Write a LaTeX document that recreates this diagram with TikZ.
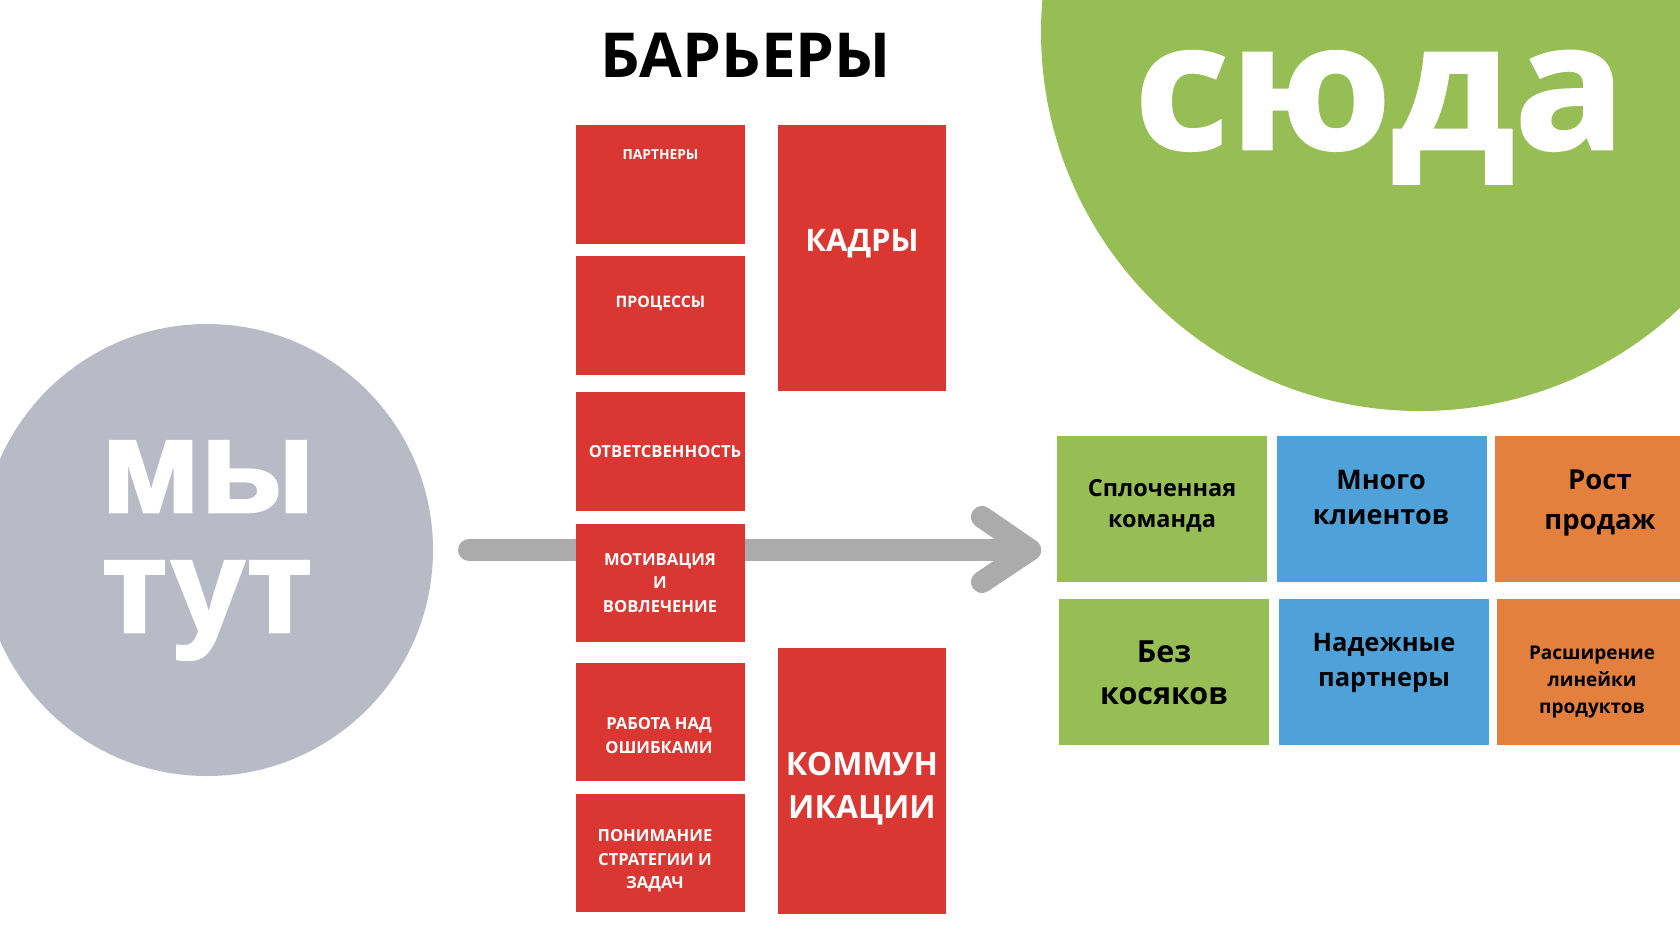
\documentclass[tikz,border=0pt]{standalone}
\usepackage{fontspec}
\setmainfont{Open Sans}
\newfontface\heavyfont{Liberation Sans Bold}[FakeBold=2]
\newfontface\sudafont{Open Sans Bold}[FakeBold=1.5, FakeStretch=1.05]
\definecolor{barred}{HTML}{DA3733}
\definecolor{goalgreen}{HTML}{96BE55}
\definecolor{goalblue}{HTML}{4FA2D9}
\definecolor{goalorange}{HTML}{E3803E}
\definecolor{heregray}{HTML}{B8BAC6}
\definecolor{arrowgray}{HTML}{ABABAB}
\newcommand{\fs}[2]{\bfseries\fontsize{#1}{#2}\selectfont}
\tikzset{
  redbox/.style={fill=barred, draw=none, inner sep=0pt, minimum width=169pt},
  goalbox/.style={draw=none, inner sep=0pt, minimum width=210pt, minimum height=146pt},
  wlbl/.style={text=white, align=center, inner sep=0pt},
  blbl/.style={text=black, align=center, inner sep=0pt},
  bigword/.style={text=white, inner sep=0pt, anchor=base},
  arrowline/.style={draw=arrowgray, line width=22pt, line cap=round, line join=round}
}
\begin{document}
\begin{tikzpicture}[x=1pt,y=-1pt]
\useasboundingbox (0,0) rectangle (1680,930);
\fill[white] (0,0) rectangle (1680,930);
\clip (0,0) rectangle (1680,930);

% circles
\node[circle, fill=heregray, draw=none, minimum size=452pt, inner sep=0pt] (here) at (207,550) {};
\node[circle, fill=goalgreen, draw=none, minimum size=758pt, inner sep=0pt] (goal) at (1420,32) {};

% arrow
\coordinate (astart) at (469,550);
\coordinate (atip) at (1030,550);
\coordinate (aup) at (982,517);
\coordinate (adown) at (982,582);
\draw[arrowline] (astart) -- (atip);
\draw[arrowline] (aup) -- (atip) -- (adown);

% title
\node[blbl, font=\fs{62}{72}] (title) at (746,55) {БАРЬЕРЫ};

% red boxes
\node[redbox, minimum height=119pt] (b1) at (660.5,184.5) {};
\node[redbox, minimum height=119pt] (b2) at (660.5,315.5) {};
\node[redbox, minimum height=119pt] (b3) at (660.5,451.5) {};
\node[redbox, minimum height=118pt] (b4) at (660.5,583) {};
\node[redbox, minimum height=118pt] (b5) at (660.5,722) {};
\node[redbox, minimum height=118pt] (b6) at (660.5,853) {};
\node[redbox, minimum width=168pt, minimum height=266pt] (kadry) at (862,258) {};
\node[redbox, minimum width=168pt, minimum height=266pt] (komm) at (862,781) {};

\node[wlbl, font=\fs{13.8}{20}] (t1) at (660.5,155) {ПАРТНЕРЫ};
\node[wlbl, font=\fs{15.8}{23}] (t2) at (660.5,303) {ПРОЦЕССЫ};
\node[wlbl, font=\fs{16.6}{23.5}] (t3) at (665,452) {ОТВЕТСВЕННОСТЬ};
\node[wlbl, font=\fs{16.6}{23.5}] (t4) at (660,583) {МОТИВАЦИЯ\\И\\ВОВЛЕЧЕНИЕ};
\node[wlbl, font=\fs{16.6}{24}] (t5) at (659,736) {РАБОТА НАД\\ОШИБКАМИ};
\node[wlbl, font=\fs{16.6}{23.5}] (t6) at (655,861) {ПОНИМАНИЕ\\СТРАТЕГИИ И\\ЗАДАЧ};
\node[wlbl, font=\fs{31}{40}] (tk) at (862,244) {КАДРЫ};
\node[wlbl, font=\fs{32}{43}] (tc) at (862,789) {КОММУН\\ИКАЦИИ};

% goal boxes
\node[goalbox, fill=goalgreen] (g1) at (1162,509) {};
\node[goalbox, fill=goalblue] (g2) at (1382,509) {};
\node[goalbox, fill=goalorange] (g3) at (1600,509) {};
\node[goalbox, fill=goalgreen] (g4) at (1164,672) {};
\node[goalbox, fill=goalblue] (g5) at (1384,672) {};
\node[goalbox, fill=goalorange] (g6) at (1602,672) {};

\node[blbl, font=\fs{23.5}{31}] (s1) at (1162,506) {Сплоченная\\команда};
\node[blbl, font=\fs{27}{35}] (s2) at (1381,497) {Много\\клиентов};
\node[blbl, font=\fs{27.5}{40}] (s3) at (1600,503) {Рост\\продаж};
\node[blbl, font=\fs{30.5}{42}] (s4) at (1164,673) {Без\\косяков};
\node[blbl, font=\fs{25.5}{35}] (s5) at (1384,663) {Надежные\\партнеры};
\node[blbl, font=\fs{19}{27}] (s6) at (1592,682) {Расширение\\линейки\\продуктов};

% big words
\node[bigword, font=\sudafont\fontsize{176}{190}\selectfont] (suda) at (1380,149) {сюда};
\node[bigword, font=\heavyfont\fontsize{134}{140}\selectfont] (my) at (208,512) {мы};
\node[bigword, font=\heavyfont\fontsize{134}{140}\selectfont] (tut) at (207,632) {тут};
\end{tikzpicture}
\end{document}
